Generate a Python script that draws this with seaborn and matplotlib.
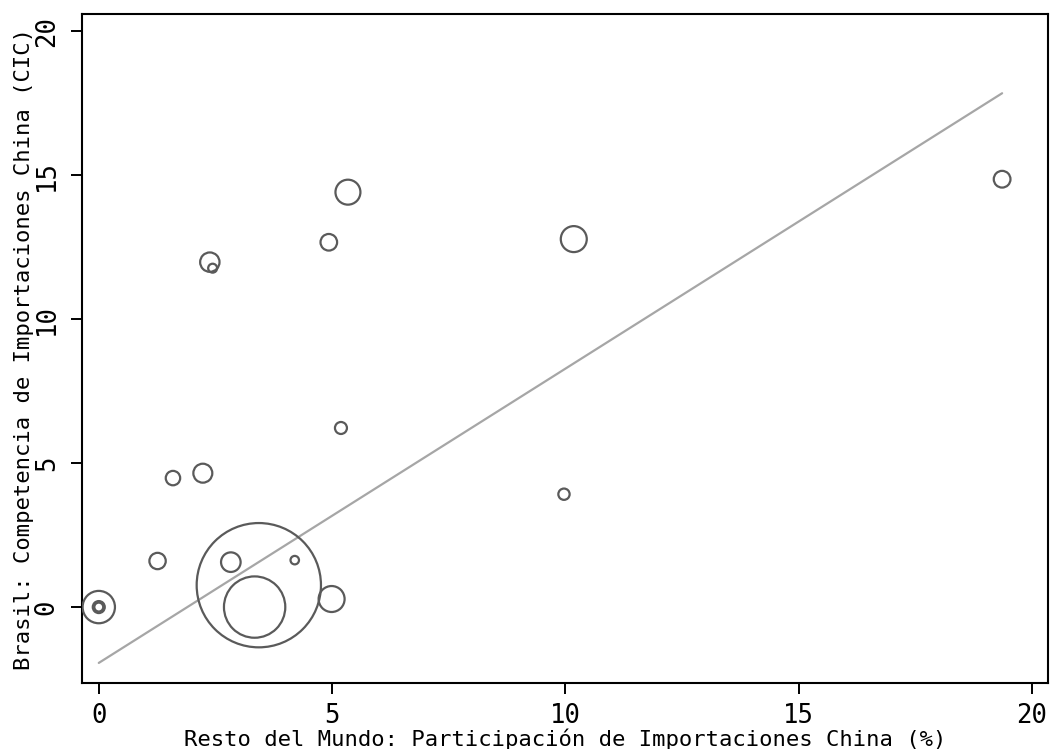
import numpy as np
import pandas as pd
import matplotlib
matplotlib.use("Agg")
import matplotlib.pyplot as plt
import seaborn as sns

# Data
x_share = [0.00, 0.00, 0.00, 1.26, 1.59, 2.23, 2.38, 2.44, 2.83, 3.43, 3.34,
           4.20, 4.99, 4.93, 5.34, 5.19, 9.97, 10.18, 19.36]
y_cic = [0.00, 0.00, 0.00, 1.60, 4.48, 4.65, 11.98, 11.77, 1.56, 0.76, 0.00,
         1.63, 0.28, 12.67, 14.41, 6.22, 3.92, 12.78, 14.86]
weight = [262, 36, 20, 67, 52, 90, 94, 20, 96, 3869, 942,
          18, 169, 69, 156, 36, 32, 169, 70]

# Fitted line
fit_intercept = -1.94
fit_slope = 1.022

x_ticks = [0, 5, 10, 15, 20]
y_ticks = [0, 5, 10, 15, 20]
x_label = "Resto del Mundo: Participación de Importaciones China (%)"
y_label = "Brasil: Competencia de Importaciones China (CIC)"

sns.set_theme(style="white")
plt.rcParams['font.family'] = ['DejaVu Sans Mono', 'DejaVu Sans']

df = pd.DataFrame({"x": x_share, "y": y_cic, "w": weight})

fig = plt.figure(figsize=(10.51, 7.49), dpi=100)
ax = fig.add_axes([0.078, 0.088, 0.919, 0.893])

k = 2.07
wmin, wmax = min(weight), max(weight)
sns.scatterplot(data=df, x="x", y="y", size="w", sizes=(k * wmin, k * wmax),
                size_norm=(wmin, wmax), legend=False, ax=ax, marker="o",
                linewidth=1.5, zorder=3)
coll = ax.collections[-1]
coll.set_facecolor("none")
coll.set_edgecolor("#5a5a5a")
coll.set_linewidth(1.6)

fx = np.array([min(x_share), max(x_share)])
fit_df = pd.DataFrame({"x": fx, "y": fit_intercept + fit_slope * fx})
sns.lineplot(data=fit_df, x="x", y="y", ax=ax, color="#a6a6a6", linewidth=1.6,
             zorder=2)

ax.set_xlim(-0.36, 20.34)
ax.set_ylim(-2.64, 20.59)
ax.set_xticks(x_ticks)
ax.set_yticks(y_ticks)
ax.set_xticklabels([str(t) for t in x_ticks], fontsize=18.5)
ax.set_yticklabels([str(t) for t in y_ticks], fontsize=18.5, rotation=90,
                   va="center")
ax.tick_params(axis="both", direction="out", length=8, width=1.4,
               color="black", labelcolor="black",
               bottom=True, left=True)
ax.tick_params(axis="x", pad=6)
ax.tick_params(axis="y", pad=8)
ax.set_xlabel(x_label, fontsize=16, labelpad=0, color="black")
ax.set_ylabel(y_label, fontsize=16, labelpad=0, color="black")
for s in ax.spines.values():
    s.set_color("black")
    s.set_linewidth(1.5)
ax.grid(False)

fig.savefig("out.png", dpi=100, facecolor="white")
